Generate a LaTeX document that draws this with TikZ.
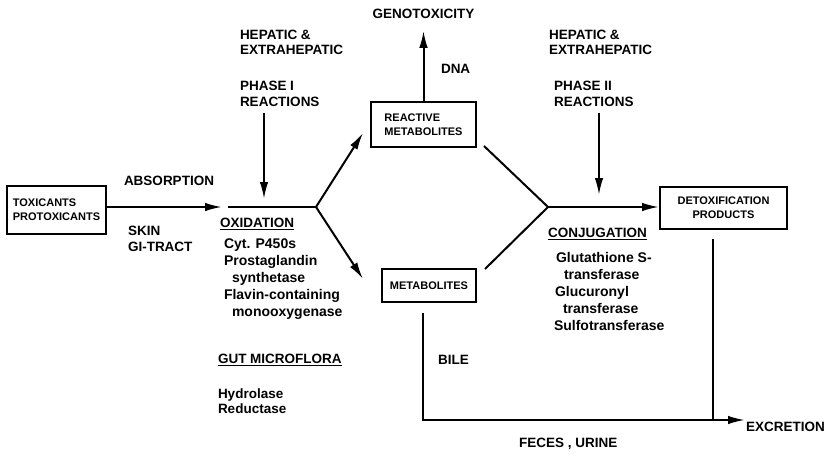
\documentclass[tikz,border=0pt]{standalone}
\usepackage{fontspec}
\setmainfont{Liberation Sans}
\usepackage{tikz}
\usetikzlibrary{arrows.meta}

\newcommand{\tagfont}{\fontsize{13.5}{15.5}\selectfont\bfseries}
\newcommand{\listfont}{\fontsize{14}{17}\selectfont\bfseries}
\newcommand{\boxfont}{\fontsize{11}{14}\selectfont\bfseries}

\begin{document}
\begin{tikzpicture}[x=1pt,y=-1pt,line width=2pt,
                    >={Latex[length=17pt,width=8.5pt]}]
  \tikzstyle{stage}=[draw,rectangle,font=\boxfont,align=left,inner sep=0pt]
  \tikzstyle{txt}=[font=\tagfont,align=left,inner sep=0pt,anchor=north west]
  \tikzstyle{enz}=[font=\listfont,align=left,inner sep=0pt,anchor=north west]

  \useasboundingbox (0,0) rectangle (828,455);

  \node[stage,minimum width=99pt,minimum height=48pt]  (tox)    at (56.5,210)  {TOXICANTS\\PROTOXICANTS};
  \node[stage,minimum width=105pt,minimum height=45pt] (react)  at (423.5,124.5) {REACTIVE\\METABOLITES};
  \node[stage,minimum width=94pt,minimum height=33pt]  (met)    at (429,285.5) {METABOLITES};
  \node[stage,minimum width=127pt,minimum height=42pt,align=center] (detox) at (723.5,208) {DETOXIFICATION\\PRODUCTS};

  \node[txt,anchor=center] (genotox) at (423.5,14)  {GENOTOXICITY};
  \node[txt,anchor=west]   (dna)     at (440,69)    {DNA};
  \node[txt]               (hepL)    at (239,29)    {HEPATIC \&\\EXTRAHEPATIC};
  \node[txt]               (ph1)     at (239,80.5)  {PHASE I\\REACTIONS};
  \node[txt]               (hepR)    at (548,29)    {HEPATIC \&\\EXTRAHEPATIC};
  \node[txt]               (ph2)     at (553,80.5)  {PHASE II\\REACTIONS};
  \node[txt]               (absorb)  at (123,175.5) {ABSORPTION};
  \node[txt]               (skin)    at (127,225.5) {SKIN\\GI-TRACT};
  \node[txt]               (oxid)    at (219,217.5) {\underline{OXIDATION}};
  \node[enz]               (oxlist)  at (223,237.5) {Cyt. P450s\\Prostaglandin\\\hspace{8pt}synthetase\\Flavin-containing\\\hspace{8pt}monooxygenase};
  \node[txt]               (gut)     at (217,353.5) {\underline{GUT MICROFLORA}};
  \node[txt]               (gutlist) at (217,387.5) {Hydrolase\\Reductase};
  \node[txt]               (conj)    at (547,227.5) {\underline{CONJUGATION}};
  \node[enz]               (conjlist) at (553,251.5) {\hspace{2pt}Glutathione S-\\\hspace{10pt}transferase\\\hspace{1pt}Glucuronyl\\\hspace{9pt}transferase\\Sulfotransferase};
  \node[txt]               (bile)    at (437,354.5) {BILE};
  \node[txt]               (feces)   at (518,437.5) {FECES , URINE};
  \node[txt,anchor=west]   (excr)    at (745,427)   {EXCRETION};

  \coordinate (ox)  at (225,207);
  \coordinate (br1) at (316,207);
  \coordinate (ra)  at (363,133);
  \coordinate (ma)  at (363,279);
  \coordinate (rs)  at (484,146);
  \coordinate (ms)  at (485,269);
  \coordinate (br2) at (548,207);
  \coordinate (p1)  at (264,199);
  \coordinate (p2)  at (599,195);
  \coordinate (mx)  at (423,420);
  \coordinate (ex)  at (713,420);

  \draw[->] (tox.east |- ox) -- ([xshift=-3pt]ox);
  \draw ([xshift=3pt]ox) -- (br1);
  \draw[->] (br1) -- (ra);
  \draw[->] (br1) -- (ma);
  \draw[->,shorten >=11pt] (react.north) -- (genotox.south);
  \draw (rs) -- (br2) -- (ms);
  \draw[->] (br2) -- (detox.west |- br2);
  \draw[->] ([yshift=-5pt]ph1.south -| p1) -- (p1);
  \draw[->] ([yshift=-5pt]ph2.south -| p2) -- (p2);
  \draw ([yshift=-9pt]detox.south -| ex) -- (ex);
  \draw[->] ([yshift=-10pt]met.south -| mx) -- (mx) -- (mx -| excr.west);

\end{tikzpicture}
\end{document}
